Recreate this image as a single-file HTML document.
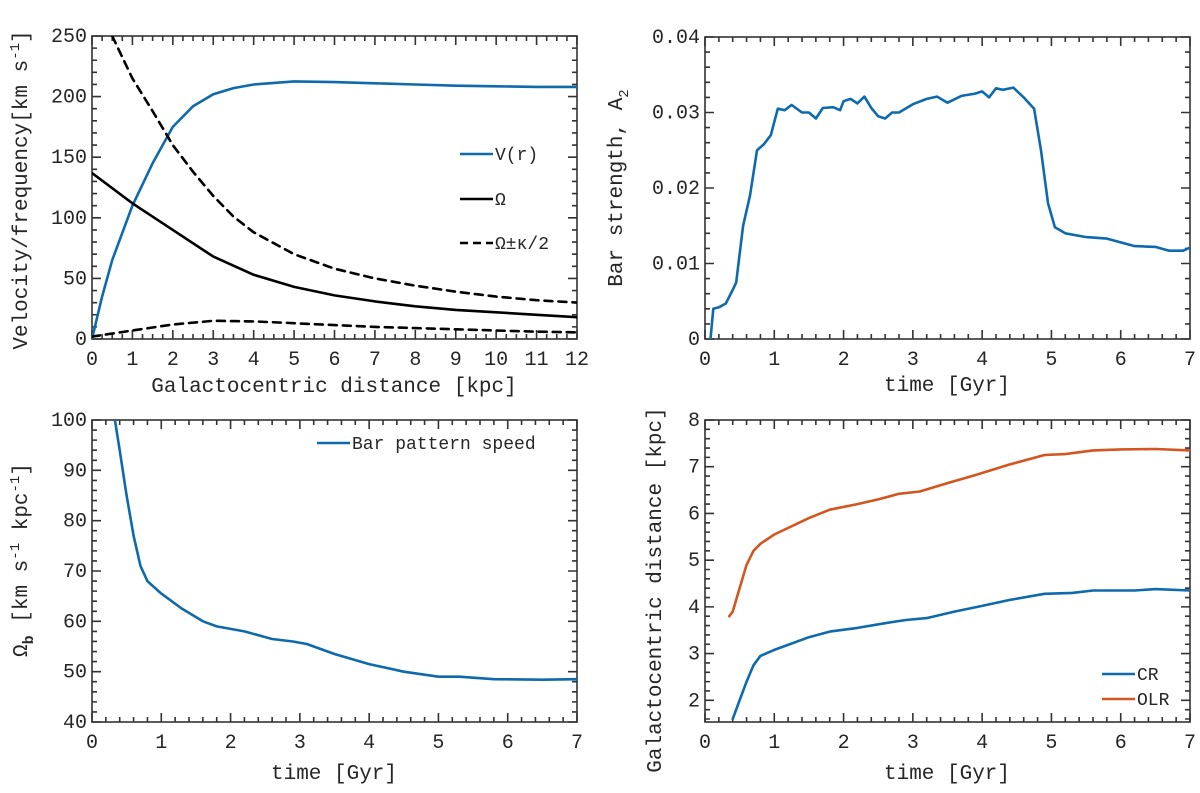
<!DOCTYPE html>
<html><head><meta charset="utf-8">
<style>
html,body{margin:0;padding:0;background:#fff;}
svg{display:block;font-family:"Liberation Mono","DejaVu Sans Mono",monospace;}
text{fill:#262626;}
</style></head>
<body>
<svg id="fig" width="1200" height="793" viewBox="0 0 1200 793" xmlns="http://www.w3.org/2000/svg"></svg>
<script>
// ---- Panel A data (rotation curve) ----
const rV = [0,0.25,0.5,1,1.5,2,2.5,3,3.5,4,5,6,7,8,9,10,11,12];
const vVals = [0,35,65,110,145,175,192,202,207,210,212.5,212,211,210,209,208.5,208,208];
const rO = [0,1,2,3,4,5,6,7,8,9,10,11,12];
const omegaVals = [137,112,90,68,53,43,36,31,27,24,22,20,18];
const rUp = [0.5,1,1.5,2,2.5,3,3.5,4,5,6,7,8,9,10,11,12];
const upVals = [250,215,188,160,138,118,101,88,70,58,50,44,39,35,32,30];
const rLo = [0,1,2,3,4,5,6,7,8,9,10,11,12];
const loVals = [2,7,12,15,14.5,13,11.5,10,9,8,7,6,5.5];
// ---- Panel B data (bar strength) ----
const tA2 = [0.08,0.12,0.2,0.3,0.4,0.45,0.55,0.65,0.75,0.85,0.95,1.05,1.15,1.25,1.4,1.5,1.6,1.7,1.85,1.95,2.0,2.1,2.2,2.3,2.4,2.5,2.6,2.7,2.8,3.0,3.2,3.35,3.5,3.7,3.9,4.0,4.1,4.2,4.3,4.45,4.6,4.75,4.85,4.95,5.05,5.2,5.5,5.8,6.0,6.2,6.5,6.7,6.9,7.0];
const a2Vals = [0,0.004,0.0042,0.0047,0.0065,0.0075,0.015,0.019,0.025,0.0258,0.027,0.0305,0.0303,0.031,0.030,0.030,0.0292,0.0306,0.0307,0.0303,0.0315,0.0318,0.0312,0.0321,0.0306,0.0295,0.0292,0.0300,0.0300,0.0311,0.0318,0.0321,0.0313,0.0322,0.0325,0.0328,0.032,0.0332,0.033,0.0333,0.032,0.0305,0.025,0.018,0.0148,0.014,0.0135,0.0133,0.0128,0.0123,0.0122,0.0117,0.0117,0.0121];
// ---- Panel C data (pattern speed) ----
const tOm = [0.33,0.4,0.5,0.6,0.7,0.8,1,1.3,1.6,1.8,2.2,2.6,2.9,3.1,3.5,4,4.5,5,5.3,5.8,6.5,7];
const omBVals = [100,94,85,77,71,68,65.5,62.5,60,59,58,56.5,56,55.5,53.5,51.5,50,49,49,48.5,48.4,48.5];
// ---- Panel D data (resonances) ----
const tOLR = [0.35,0.4,0.5,0.6,0.7,0.8,1,1.5,1.8,2.2,2.5,2.8,3.1,3.5,3.9,4.4,4.9,5.2,5.6,6,6.5,7];
const olrVals = [3.8,3.9,4.4,4.9,5.2,5.35,5.55,5.9,6.08,6.2,6.3,6.42,6.47,6.65,6.82,7.05,7.25,7.27,7.35,7.37,7.38,7.35];
const tCR = [0.4,0.5,0.6,0.7,0.8,1,1.5,1.8,2.2,2.6,2.9,3.2,3.6,4.0,4.4,4.9,5.3,5.6,6.2,6.5,7];
const crVals = [1.6,2.0,2.4,2.75,2.95,3.08,3.35,3.47,3.55,3.65,3.72,3.76,3.9,4.02,4.15,4.28,4.3,4.35,4.35,4.38,4.35];
const xTicksA = [0,1,2,3,4,5,6,7,8,9,10,11,12];
const yTicksA = [0,50,100,150,200,250];
const xTicksT = [0,1,2,3,4,5,6,7];
const yTicksB = [0,0.01,0.02,0.03,0.04];
const yTickLabelsB = ['0','0.01','0.02','0.03','0.04'];
const yTicksC = [40,50,60,70,80,90,100];
const yTicksD = [2,3,4,5,6,7,8];

const NS='http://www.w3.org/2000/svg';
const svg=document.getElementById('fig');
function mk(tag,attrs,parent){const e=document.createElementNS(NS,tag);for(const k in attrs)e.setAttribute(k,attrs[k]);(parent||svg).appendChild(e);return e;}
const BLUE='#0e6aad', ORANGE='#d2561f';

function panel(id,box,xd,yd,xt,xminor,yt,ylabels,yminor){
  const g=mk('g',{});
  
  
  const sx=v=>box.x0+(v-xd[0])/(xd[1]-xd[0])*(box.x1-box.x0);
  const sy=v=>box.y1-(v-yd[0])/(yd[1]-yd[0])*(box.y1-box.y0);
  const cp=mk('clipPath',{id:'clip-'+id},g);
  mk('rect',{x:box.x0,y:box.y0,width:box.x1-box.x0,height:box.y1-box.y0},cp);
  let d='';
  for(let v=xd[0];v<=xd[1]+1e-9;v+=xminor){const x=sx(v);d+=`M${x},${box.y1}v-5M${x},${box.y0}v5`;}
  for(let v=Math.ceil(yd[0]/yminor-1e-9)*yminor;v<=yd[1]+1e-9;v+=yminor){const y=sy(v);d+=`M${box.x0},${y}h5M${box.x1},${y}h-5`;}
  xt.forEach(v=>{const x=sx(v);d+=`M${x},${box.y1}v-9M${x},${box.y0}v9`;});
  yt.forEach(v=>{const y=sy(v);d+=`M${box.x0},${y}h9M${box.x1},${y}h-9`;});
  const tk=mk('path',{d:d,stroke:'#333','stroke-width':1.6,fill:'none'},g);
  
  
  const fr=mk('rect',{x:box.x0,y:box.y0,width:box.x1-box.x0,height:box.y1-box.y0,fill:'none',stroke:'#333','stroke-width':1.6},g);
  
  
  xt.forEach(v=>{const t=mk('text',{x:sx(v),y:box.y1+26,'text-anchor':'middle','font-size':20},g);t.textContent=String(v);
    
    });
  yt.forEach((v,i)=>{const t=mk('text',{x:box.x0-5,y:sy(v)+6,'text-anchor':'end','font-size':20},g);t.textContent=ylabels?ylabels[i]:String(v);
    
    });
  return {g,sx,sy,clip:'url(#clip-'+id+')'};
}
function line(P,xs,ys,color,dash,name){
  const d=xs.map((x,i)=>(i?'L':'M')+P.sx(x).toFixed(1)+','+P.sy(ys[i]).toFixed(1)).join('');
  const p=mk('path',{d:d,stroke:color,'stroke-width':2.6,fill:'none','clip-path':P.clip,'stroke-linejoin':'round','stroke-linecap':'round'},P.g);
  if(dash)p.setAttribute('stroke-dasharray','8,6');
  
  
}
function legend(P,x,y,color,dash,label,name){
  const l=mk('line',{x1:x,y1:y,x2:x+33,y2:y,stroke:color,'stroke-width':2.6},P.g);
  if(dash)l.setAttribute('stroke-dasharray','8,5');
  
  
  const t=mk('text',{x:x+35,y:y+6,'font-size':18},P.g);t.textContent=label;
  
  
}
function vlabel(cx,cy,html,name){
  const t=mk('text',{x:cx,y:cy,'text-anchor':'middle','font-size':21,transform:`rotate(-90 ${cx} ${cy})`});
  t.innerHTML=html;
  
  
}
function hlabel(cx,cy,txt,name){
  const t=mk('text',{x:cx,y:cy,'text-anchor':'middle','font-size':21});t.textContent=txt;
  
  
}

// Panel A
const A=panel('panel-rotation-curve',{x0:92,x1:577,y0:36,y1:339},[0,12],[0,250],xTicksA,0.25,yTicksA,null,10);
line(A,rV,vVals,BLUE,false,'line-v-r');
line(A,rO,omegaVals,'#000',false,'line-omega');
line(A,rUp,upVals,'#000',true,'line-omega-plus-kappa');
line(A,rLo,loVals,'#000',true,'line-omega-minus-kappa');
legend(A,460,154,BLUE,false,'V(r)','legend-v-r');
legend(A,460,199,'#000',false,'Ω','legend-omega');
legend(A,460,243,'#000',true,'Ω±κ/2','legend-omega-kappa');
hlabel(334,392,'Galactocentric distance [kpc]','x-axis-title-a');
vlabel(27,190,'Velocity/frequency[km s<tspan dy="-8" font-size="14">-1</tspan><tspan dy="8">]</tspan>','y-axis-title-a');

// Panel B
const B=panel('panel-bar-strength',{x0:705,x1:1190,y0:37,y1:339},[0,7],[0,0.04],xTicksT,0.2,yTicksB,yTickLabelsB,0.002);
line(B,tA2,a2Vals,BLUE,false,'line-a2');
hlabel(947,391,'time [Gyr]','x-axis-title-b');
vlabel(622,188,'Bar strength, A<tspan dy="6" font-size="14">2</tspan>','y-axis-title-b');

// Panel C
const C=panel('panel-pattern-speed',{x0:92,x1:577,y0:420,y1:722},[0,7],[40,100],xTicksT,0.2,yTicksC,null,2);
line(C,tOm,omBVals,BLUE,false,'line-pattern-speed');
legend(C,317,443,BLUE,false,'Bar pattern speed','legend-pattern-speed');
hlabel(334,779,'time [Gyr]','x-axis-title-c');
vlabel(27,560,'Ω<tspan dy="6" font-size="15" font-weight="bold">b</tspan><tspan dy="-6"> [km s</tspan><tspan dy="-8" font-size="14">-1</tspan><tspan dy="8"> kpc</tspan><tspan dy="-8" font-size="14">-1</tspan><tspan dy="8">]</tspan>','y-axis-title-c');

// Panel D
const D=panel('panel-resonances',{x0:705,x1:1190,y0:420,y1:722},[0,7],[1.536,8],xTicksT,0.2,yTicksD,null,0.2);
line(D,tCR,crVals,BLUE,false,'line-cr');
line(D,tOLR,olrVals,ORANGE,false,'line-olr');
legend(D,1102,674,BLUE,false,'CR','legend-cr');
legend(D,1102,699,ORANGE,false,'OLR','legend-olr');
hlabel(947,779,'time [Gyr]','x-axis-title-d');
vlabel(661,590,'Galactocentric distance [kpc]','y-axis-title-d');
</script>
</body></html>
